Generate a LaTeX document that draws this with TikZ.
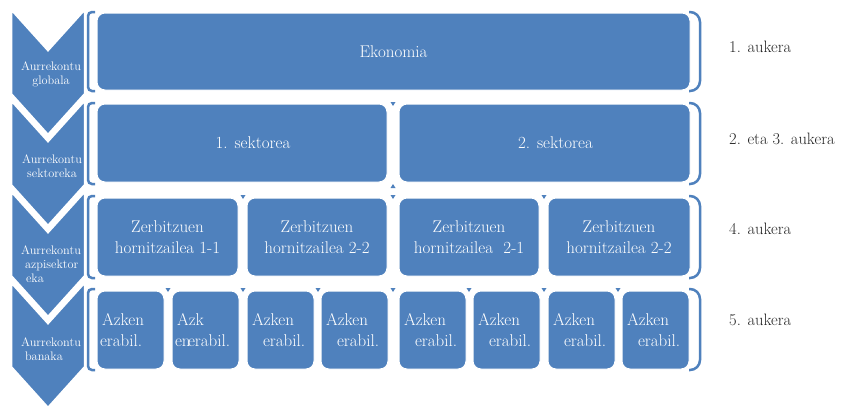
\documentclass[tikz,border=0pt]{standalone}
\definecolor{smartblue}{RGB}{79,129,189}
\begin{document}
\begin{tikzpicture}[x=1pt, y=-1pt,
    chevron/.style={fill=smartblue, draw=white, line width=2.5pt, line join=miter},
    chevtext/.style={text=white, font=\fontsize{12.3}{13.8}\selectfont, align=center, inner sep=0pt},
    unitbox/.style={fill=smartblue, draw=white, line width=1pt, rounded corners=8pt,
        text=white, font=\fontsize{17}{21.5}\selectfont, inner sep=0pt, align=center},
    enduser/.style={unitbox, minimum width=67pt, minimum height=78pt,
        text width=61pt, inner xsep=3pt, align=left},
    brack/.style={draw=white, double=smartblue, double distance=2.5pt, line width=0.8pt},
    gapmark/.style={fill=smartblue, draw=none},
    option/.style={anchor=west, text=black!85, font=\fontsize{16.5}{20}\selectfont, inner sep=0pt}]
    \useasboundingbox (0,0) rectangle (845,410);

    % chevrons on the left
    \foreach \t in {9,100,191,282}
        \draw[chevron] (11,\t) -- (48,\t+41) -- (85,\t) -- (85,\t+85) -- (48,\t+126) -- (11,\t+85) -- cycle;
    \node[chevtext] (chev1) at (51,74) {Aurrekontu\\globala};
    \node[chevtext] (chev2) at (52,166) {Aurrekontu\\sektoreka};
    \node[chevtext, align=left] (chev3) at (51,264) {Aurrekontu\\\hspace*{4pt}azpisektor\\\hspace*{5pt}eka};
    \node[chevtext, align=left] (chev4) at (51,349) {Aurrekontu\\\hspace*{4pt}banaka};

    % brackets
    \foreach \a/\b in {12/91, 103/184, 196/278, 289/370} {
        \draw[brack, rounded corners=4pt] (95,\a) -- (88,\a) -- (88,\b) -- (95,\b);
        \draw[brack, rounded corners=10pt] (689,\a) -- (700,\a) -- (700,\b) -- (689,\b);
    }

    % level 1
    \node[unitbox, minimum width=593pt, minimum height=77pt] (eko) at (393.5,51.5) {Ekonomia};

    % level 2
    \node[unitbox, minimum width=290pt, minimum height=78pt] (sek1) at (242,143) {\hspace*{22pt}1. sektorea};
    \node[unitbox, minimum width=291pt, minimum height=78pt] (sek2) at (544.5,143) {\hspace*{22pt}2. sektorea};

    % level 3
    \node[unitbox, minimum width=141pt, minimum height=78pt] (horn1) at (167.5,237) {Zerbitzuen\\hornitzailea 1-1};
    \node[unitbox, minimum width=140pt, minimum height=78pt] (horn2) at (317,237) {Zerbitzuen\\hornitzailea 2-2};
    \node[unitbox, minimum width=140pt, minimum height=78pt] (horn3) at (469,237) {Zerbitzuen\\hornitzailea\ \ 2-1};
    \node[unitbox, minimum width=142pt, minimum height=78pt] (horn4) at (619,237) {Zerbitzuen\\hornitzailea 2-2};

    % level 4
    \node[enduser] (user1) at (130.5,330) {\hspace*{2pt}Azken\\erabil.};
    \node[enduser] (user2) at (205.5,330) {\hspace*{2pt}Azk\\\mbox{\rlap{en}\hspace*{13pt}erabil.}};
    \foreach \x [count=\i from 3] in {247,321,399,473,548,622}
        \node[enduser] (user\i) at (\x+33.5,330) {\hspace*{2pt}Azken\\\hspace*{13pt}erabil.};

    % small marks in the gaps
    \foreach \x/\y in {393/102, 243/195, 393/195, 544/195,
                       168/288, 243/288, 318/288, 393/288, 469/288, 544/288, 618/288}
        \fill[gapmark] (\x-2.5,\y) -- (\x+2.5,\y) -- (\x,\y+4) -- cycle;
    \fill[gapmark] (390.5,188) -- (395.5,188) -- (393,184) -- cycle;

    % options on the right
    \node[option] (opt1) at (729,47) {1. aukera};
    \node[option] (opt2) at (729,139) {2. eta 3. aukera};
    \node[option] (opt3) at (729,229) {4. aukera};
    \node[option] (opt4) at (729,320) {5. aukera};
\end{tikzpicture}
\end{document}
